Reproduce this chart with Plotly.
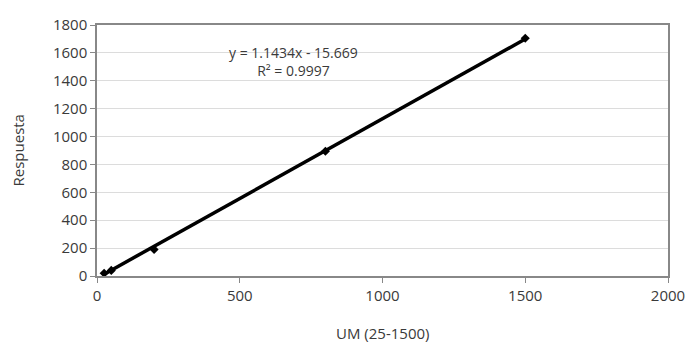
import plotly.graph_objects as go

um = [25, 50, 200, 800, 1500]
respuesta = [20, 40, 190, 895, 1705]
slope = 1.1434
intercept = -15.669
r2 = 0.9997

trend_x = [min(um), max(um)]
trend_y = [slope * v + intercept for v in trend_x]

FONT = "Open Sans"
TXT = "#3a3a3a"
fig = go.Figure()
fig.add_trace(go.Scatter(x=trend_x, y=trend_y, mode="lines",
                         line=dict(color="black", width=3.5), showlegend=False, hoverinfo="skip"))
fig.add_trace(go.Scatter(x=um, y=respuesta, mode="markers",
                         marker=dict(symbol="diamond", size=7, color="black"), showlegend=False))

fig.add_annotation(x=687, y=1540, xref="x", yref="y", showarrow=False,
                   text="y = 1.1434x - 15.669<br>R² = 0.9997", align="center",
                   font=dict(family=FONT, size=14, color=TXT))
fig.add_annotation(x=0.5, y=0, xref="paper", yref="paper", yshift=-57, yanchor="middle",
                   showarrow=False, text="UM (25-1500)", font=dict(family=FONT, size=15, color=TXT))
fig.add_annotation(x=0, y=0.5, xref="paper", yref="paper", xshift=-80, xanchor="center",
                   textangle=-90, showarrow=False, text="Respuesta",
                   font=dict(family=FONT, size=15, color=TXT))

fig.update_layout(
    width=689, height=347,
    margin=dict(l=97, r=21, t=25, b=71),
    paper_bgcolor="white", plot_bgcolor="white",
    font=dict(family=FONT, size=15, color=TXT),
    xaxis=dict(range=[0, 2000], tickvals=[0, 500, 1000, 1500, 2000], showgrid=False,
               ticks="outside", ticklen=5, tickcolor="#888", showline=True, linecolor="#888",
               linewidth=1.5, mirror=True, zeroline=False, automargin=False),
    yaxis=dict(range=[0, 1800], dtick=200, showgrid=True, gridcolor="#dcdcdc",
               ticks="outside", ticklen=5, tickcolor="#888", showline=True, linecolor="#888",
               linewidth=1.5, mirror=True, zeroline=False, automargin=False),
)
fig.write_html("out.html", config={"displayModeBar": False},
               post_script="document.body.style.margin='0';document.body.style.overflow='hidden';")
